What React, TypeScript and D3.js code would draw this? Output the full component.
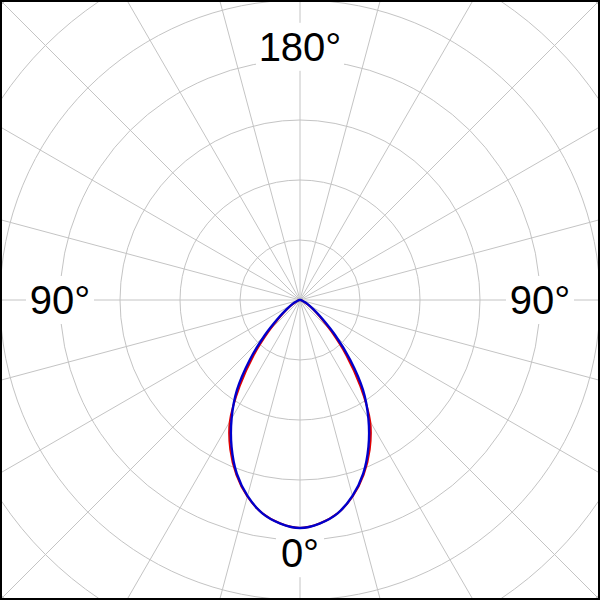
import React from "react";
import * as d3 from "d3";

const angles = [0, 5, 10, 15, 20, 25, 30, 35, 40, 45, 50, 55, 60, 65, 70, 75, 80, 85, 90];
const seriesRed = [380, 374, 361, 339, 310, 275, 234, 175, 120, 74, 43, 26, 15, 8, 5, 3, 2, 1, 0];
const seriesBlue = [380, 374, 361, 338, 308, 270, 228, 183, 130, 83, 48, 28, 17, 10, 5, 3, 2, 1, 0];
const ringValues = [100, 200, 300, 400, 500, 600, 700];
const spokeAngles = d3.range(0, 360, 15);
const axisLabels = [
  { text: "180°", angle: 180, value: 422 },
  { text: "90°", angle: 90, value: 400 },
  { text: "90°", angle: -90, value: 400 },
  { text: "0°", angle: 0, value: 422 },
];

const W = 600;
const H = 600;
const cx = 300;
const cy = 300;

export default function App() {
  const r = d3.scaleLinear().domain([0, 100]).range([0, 60]);
  const toRad = (deg: number) => (deg * Math.PI) / 180;

  const buildPath = (vals: number[]) => {
    const pts: [number, number][] = [];
    angles.forEach((a, i) => pts.push([Math.PI - toRad(a), r(vals[i])]));
    for (let i = angles.length - 2; i >= 1; i--) {
      pts.push([Math.PI + toRad(angles[i]), r(vals[i])]);
    }
    const line = d3
      .lineRadial<[number, number]>()
      .angle((d) => d[0])
      .radius((d) => d[1])
      .curve(d3.curveCatmullRomClosed.alpha(0.5));
    return line(pts) || "";
  };

  const labelPos = (angleDeg: number, value: number) => {
    const t = toRad(angleDeg);
    return [cx + r(value) * Math.sin(t), cy + r(value) * Math.cos(t)];
  };

  const fontSize = 40;

  return (
    <svg
      width={W}
      height={H}
      style={{ position: "absolute", left: 0, top: 0, background: "#fff" }}
      fontFamily="'Liberation Sans', Arial, sans-serif"
    >
      <rect x={0} y={0} width={W} height={H} fill="#fff" />
      <g>
        {ringValues.map((v) => (
          <circle key={v} cx={cx} cy={cy} r={r(v)} fill="none" stroke="#c4c4c4" strokeWidth={1} />
        ))}
        {spokeAngles.map((a) => {
          const t = toRad(a);
          const L = r(800);
          return (
            <line
              key={a}
              x1={cx}
              y1={cy}
              x2={cx + L * Math.sin(t)}
              y2={cy + L * Math.cos(t)}
              stroke="#c4c4c4"
              strokeWidth={1}
            />
          );
        })}
      </g>
      {axisLabels.map((l, i) => {
        const [x, y] = labelPos(l.angle, l.value);
        const w = l.text.length * fontSize * 0.5 + 8;
        const h = fontSize * 1.2;
        return (
          <g key={i}>
            <rect x={x - w / 2} y={y - h / 2} width={w} height={h} fill="#fff" />
            <text
              x={x}
              y={y}
              textAnchor="middle"
              dominantBaseline="central"
              fontSize={fontSize}
              fill="#000"
            >
              {l.text}
            </text>
          </g>
        );
      })}
      <g transform={`translate(${cx},${cy})`}>
        <path d={buildPath(seriesRed)} fill="none" stroke="#e00000" strokeWidth={2} />
        <path d={buildPath(seriesBlue)} fill="none" stroke="#0000cc" strokeWidth={2.4} />
      </g>
      <rect x={1} y={1} width={W - 2} height={H - 2} fill="none" stroke="#000" strokeWidth={2} />
    </svg>
  );
}
